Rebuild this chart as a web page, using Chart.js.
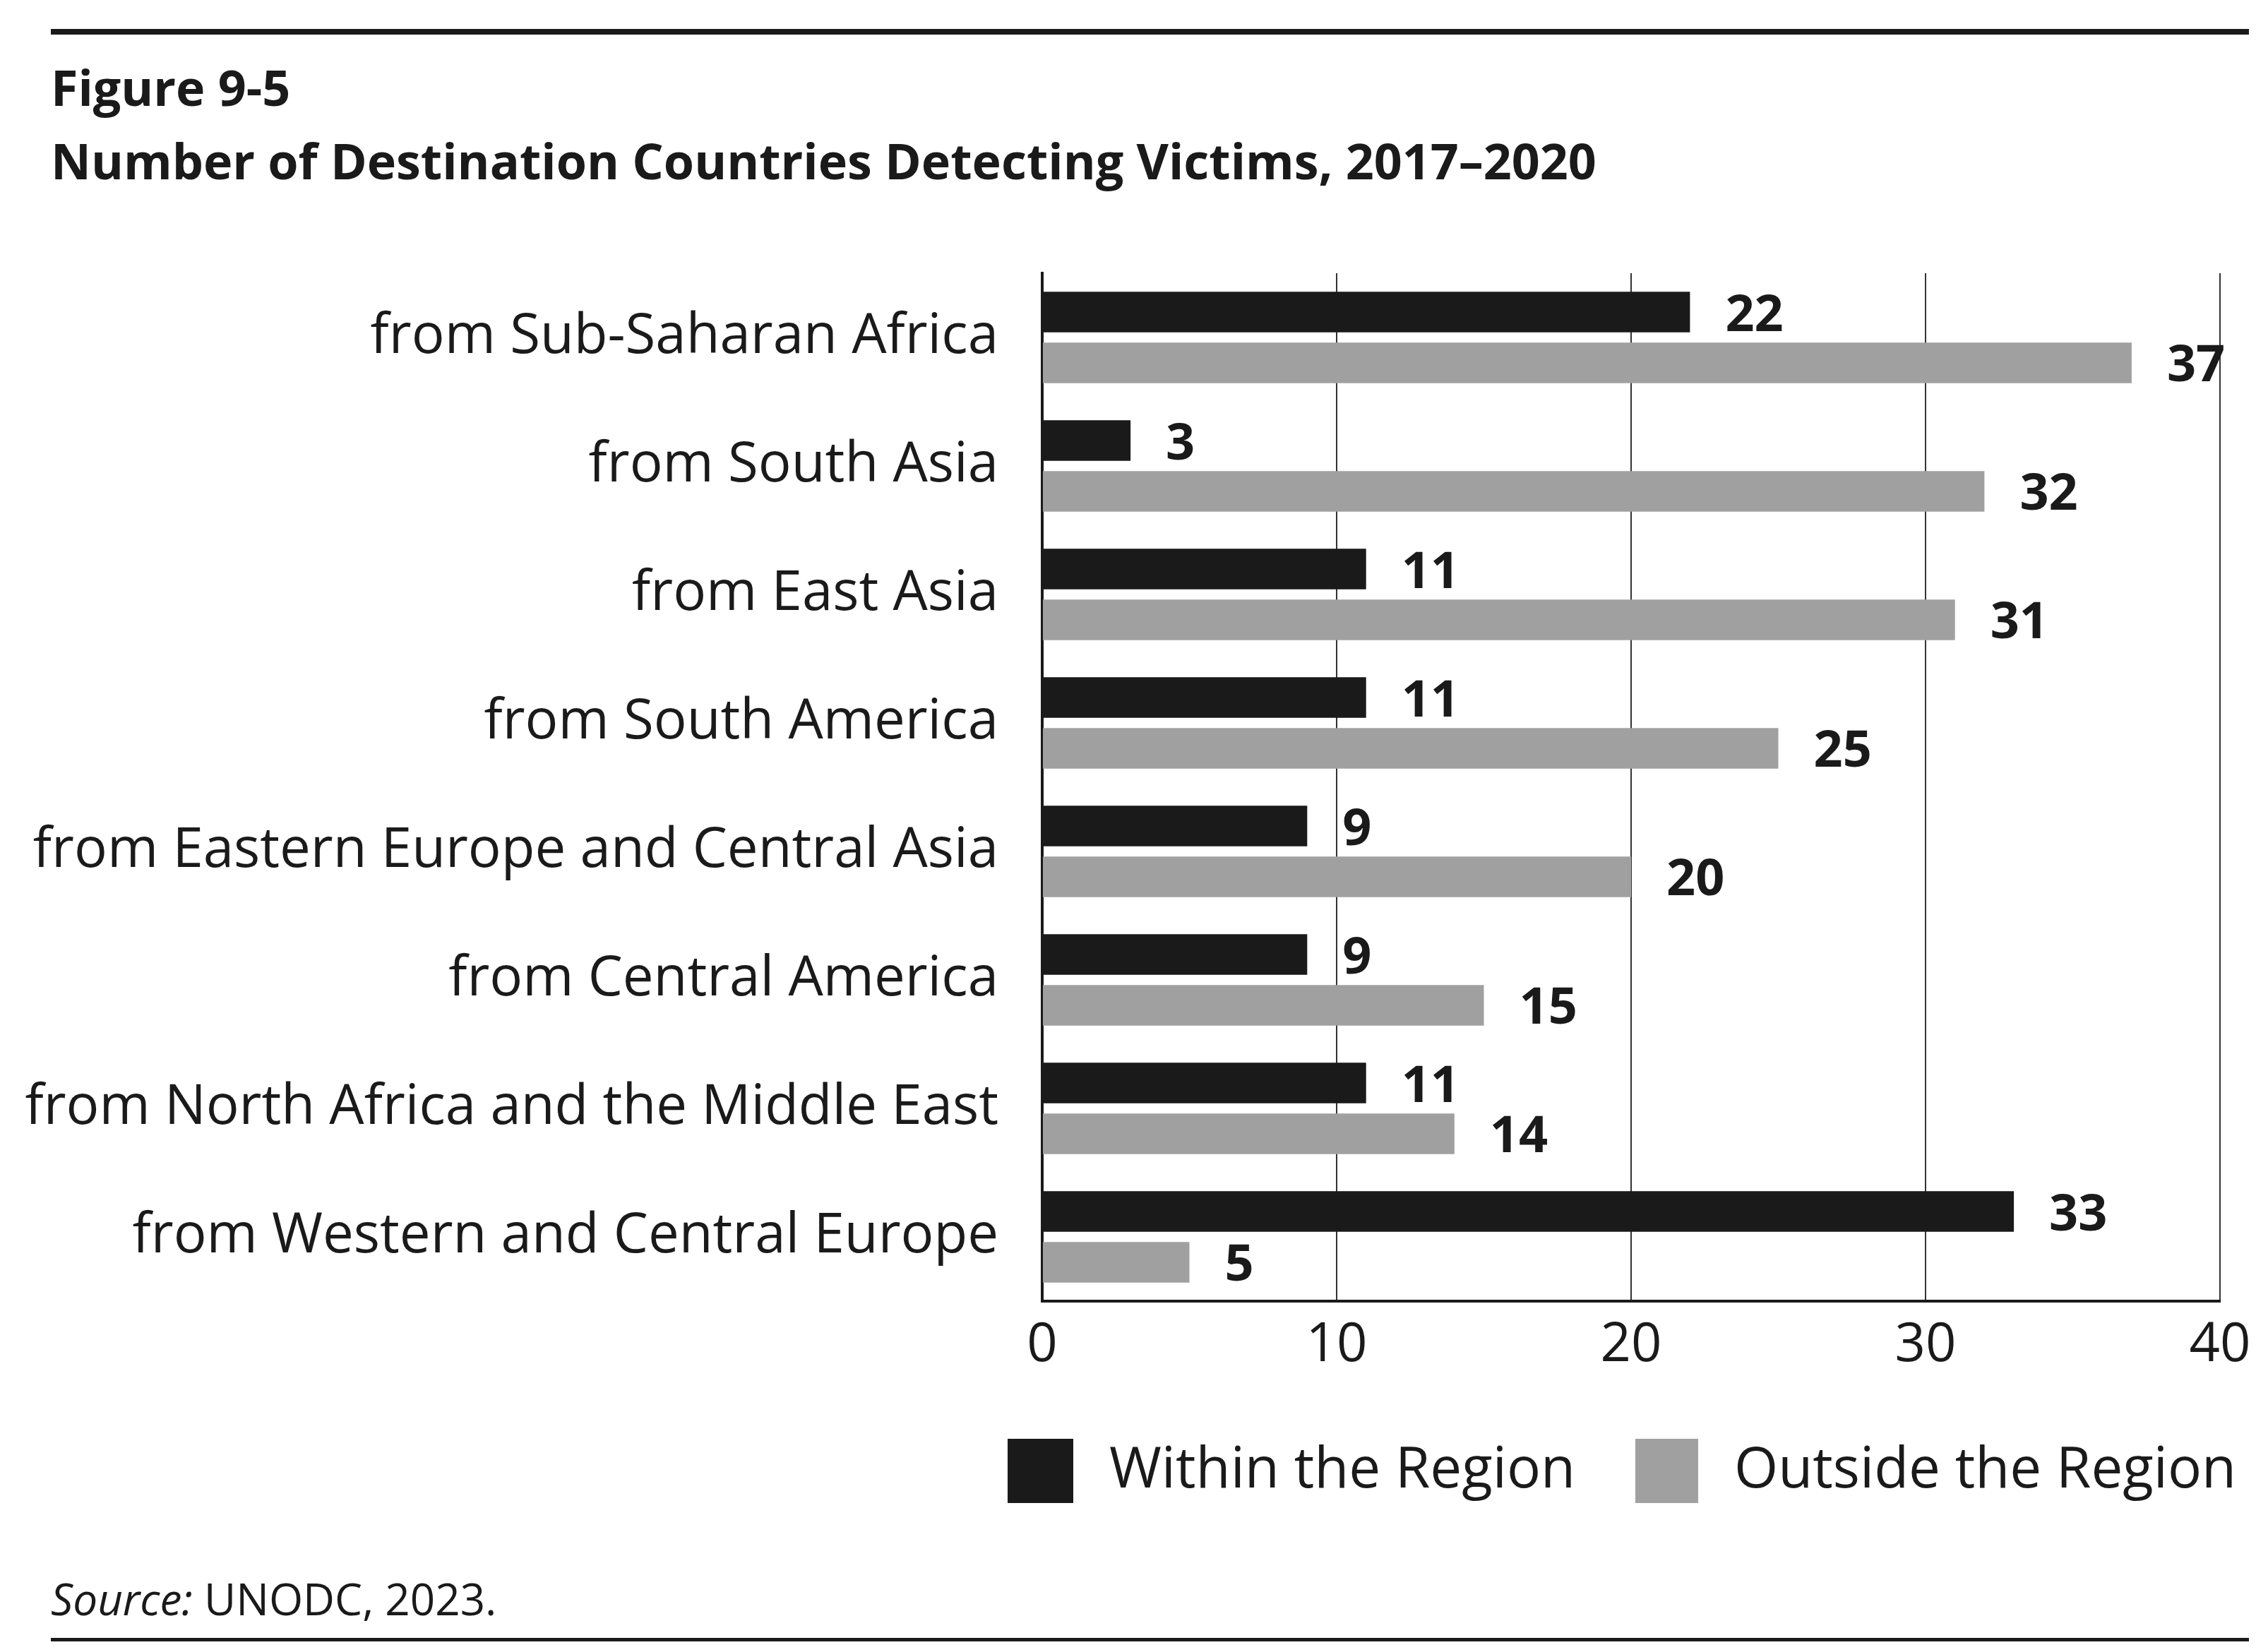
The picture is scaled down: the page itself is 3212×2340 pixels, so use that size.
<!DOCTYPE html>
<html><head><meta charset="utf-8">
<script src="https://cdn.jsdelivr.net/npm/chart.js@4"></script>
<style>body{margin:0;background:#fff}canvas{display:block}</style>
</head><body>
<canvas id="c" width="3212" height="2340"></canvas>
<script>
const regions = [
  "from Sub-Saharan Africa",
  "from South Asia",
  "from East Asia",
  "from South America",
  "from Eastern Europe and Central Asia",
  "from Central America",
  "from North Africa and the Middle East",
  "from Western and Central Europe",
];
const withinRegion = [22, 3, 11, 11, 9, 9, 11, 33];
const outsideRegion = [37, 32, 31, 25, 20, 15, 14, 5];
const seriesNames = ["Within the Region", "Outside the Region"];

const FONT = "'Open Sans', 'Noto Sans', sans-serif";
const INK = "#1a1a1a";
const GREY = "#a0a0a0";

// titles, rules, legend, source and value labels
const decorations = {
  id: "decorations",
  afterDraw(chart) {
    const ctx = chart.ctx;
    ctx.save();
    ctx.fillStyle = INK;
    ctx.fillRect(72, 41, 3113, 8);
    ctx.fillRect(72, 2320, 3113, 5);

    ctx.textAlign = "left";
    ctx.textBaseline = "alphabetic";
    ctx.font = "bold 70px " + FONT;
    ctx.fillText("Figure 9-5", 72, 150);
    ctx.fillText("Number of Destination Countries Detecting Victims, 2017\u20132020", 72, 254);

    ctx.font = "italic 62px " + FONT;
    ctx.fillText("Source:", 72, 2288);
    const w = ctx.measureText("Source: ").width;
    ctx.font = "62px " + FONT;
    ctx.fillText("UNODC, 2023.", 72 + w, 2288);

    // legend
    ctx.font = "80px " + FONT;
    ctx.textBaseline = "middle";
    ctx.fillStyle = INK;
    ctx.fillRect(1427, 2038, 93, 91);
    ctx.fillText(seriesNames[0], 1571, 2084);
    ctx.fillStyle = GREY;
    ctx.fillRect(2316, 2038, 89, 91);
    ctx.fillStyle = INK;
    ctx.fillText(seriesNames[1], 2456, 2084);

    // value labels
    ctx.font = "bold 72px " + FONT;
    ctx.textAlign = "left";
    chart.data.datasets.forEach((ds, i) => {
      chart.getDatasetMeta(i).data.forEach((bar, j) => {
        ctx.fillText(String(ds.data[j]), bar.x + 50, bar.y + 6);
      });
    });
    ctx.restore();
  }
};

new Chart(document.getElementById("c"), {
  type: "bar",
  data: {
    labels: regions,
    datasets: [
      { label: seriesNames[0], data: withinRegion, backgroundColor: INK },
      { label: seriesNames[1], data: outsideRegion, backgroundColor: GREY },
    ],
  },
  options: {
    indexAxis: "y",
    responsive: false,
    animation: false,
    devicePixelRatio: 1,
    categoryPercentage: 0.79,
    barPercentage: 0.8,
    layout: { padding: { top: 387, right: 68, bottom: 347, left: 0 } },
    plugins: { legend: { display: false }, tooltip: { enabled: false } },
    scales: {
      x: {
        min: 0, max: 40,
        ticks: { stepSize: 10, color: INK, font: { family: FONT, size: 76 }, padding: 18 },
        grid: { color: "#333", lineWidth: 2, drawTicks: false },
        border: { color: INK, width: 4 },
        afterFit: (s) => { s.height = 150; },
      },
      y: {
        ticks: { color: INK, font: { family: FONT, size: 78 }, padding: 62 },
        grid: { display: false, drawTicks: false },
        border: { color: INK, width: 4 },
        afterFit: (s) => { s.width = 1476; },
      },
    },
  },
  plugins: [decorations],
});
</script>
</body></html>
